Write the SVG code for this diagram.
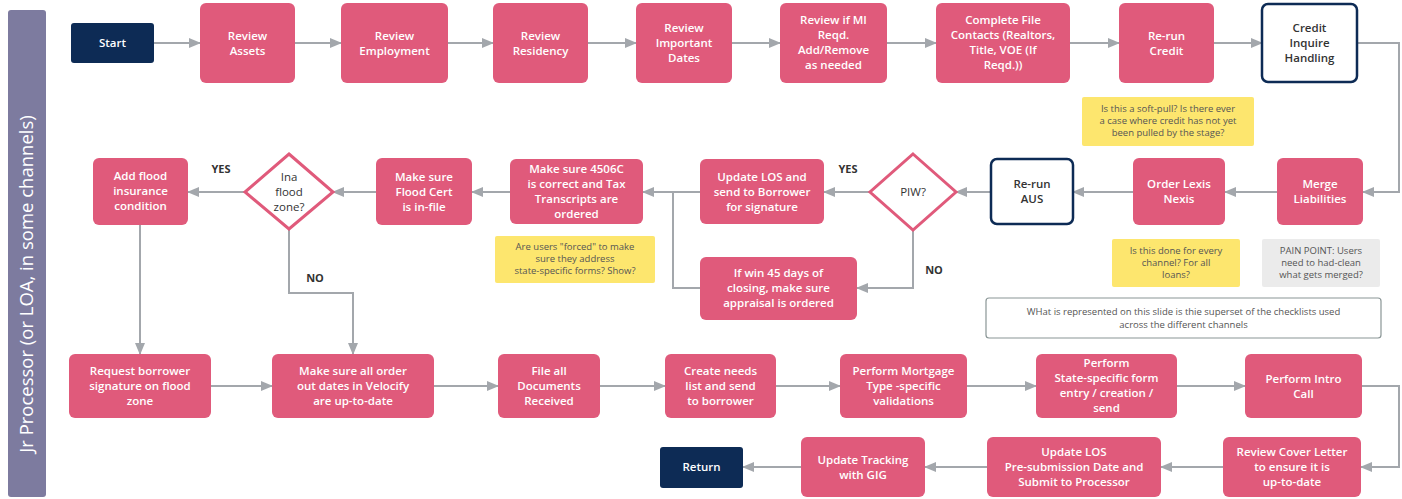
<svg xmlns="http://www.w3.org/2000/svg" width="1402" height="499" viewBox="0 0 1402 499">
<style>
.p{fill:#e05a7b}
.w{fill:#ffffff;stroke:#0d2b55;stroke-width:2.5}
.n{fill:#0d2b55}
.t{font-family:"Open Sans","Noto Sans",sans-serif;font-size:11.5px;font-weight:600;fill:#ffffff;text-anchor:middle}
.td{font-family:"Open Sans","Noto Sans",sans-serif;font-size:11.5px;font-weight:600;fill:#333333;text-anchor:middle}
.tn{font-family:"Open Sans","Noto Sans",sans-serif;font-size:9.5px;fill:#555555;text-anchor:middle}
.tl{font-family:"Open Sans","Noto Sans",sans-serif;font-size:11px;font-weight:700;fill:#333333;text-anchor:middle}
.c{fill:none;stroke:#a3a7ac;stroke-width:2}
.d{fill:#ffffff;stroke:#e05a7b;stroke-width:3}
.y{fill:#fde66e}
</style>
<defs>
<marker id="ah" markerWidth="12" markerHeight="10" refX="11" refY="5" orient="auto" markerUnits="userSpaceOnUse">
<path d="M0,0 L12,5 L0,10 Z" fill="#a3a7ac"/>
</marker>
</defs>
<rect width="1402" height="499" fill="#ffffff"/>
<g id="lane">
<rect x="8" y="10" width="38" height="487" rx="3" fill="#7d7b9f"/>
<text transform="translate(33,284) rotate(-90)" style="font-family:'Open Sans','Noto Sans',sans-serif;font-size:18.5px;fill:#ffffff;text-anchor:middle">Jr Processor (or LOA, in some channels)</text>
</g>
<g id="connectors">
<path class="c" d="M154,43 H200" marker-end="url(#ah)"/>
<path class="c" d="M295,43 H341" marker-end="url(#ah)"/>
<path class="c" d="M448,43 H493" marker-end="url(#ah)"/>
<path class="c" d="M588,43 H636" marker-end="url(#ah)"/>
<path class="c" d="M732,43 H780" marker-end="url(#ah)"/>
<path class="c" d="M887,43 H936" marker-end="url(#ah)"/>
<path class="c" d="M1070,43 H1119" marker-end="url(#ah)"/>
<path class="c" d="M1214,43 H1262" marker-end="url(#ah)"/>
<path class="c" d="M1357,43 H1399 V192 H1363" marker-end="url(#ah)"/>
<path class="c" d="M1277,192 H1225" marker-end="url(#ah)"/>
<path class="c" d="M1133,192 H1073" marker-end="url(#ah)"/>
<path class="c" d="M990,192 H956" marker-end="url(#ah)"/>
<path class="c" d="M870,192 H824" marker-end="url(#ah)"/>
<path class="c" d="M913,231 V288 H857" marker-end="url(#ah)"/>
<path class="c" d="M700,192 H643" marker-end="url(#ah)"/>
<path class="c" d="M700,288 H673 V192"/>
<path class="c" d="M510,192 H472" marker-end="url(#ah)"/>
<path class="c" d="M376,192 H333" marker-end="url(#ah)"/>
<path class="c" d="M245,192 H188" marker-end="url(#ah)"/>
<path class="c" d="M140,225 V354" marker-end="url(#ah)"/>
<path class="c" d="M289,229 V293 H353 V354" marker-end="url(#ah)"/>
<path class="c" d="M211,386 H272" marker-end="url(#ah)"/>
<path class="c" d="M434,386 H498" marker-end="url(#ah)"/>
<path class="c" d="M600,386 H665" marker-end="url(#ah)"/>
<path class="c" d="M776,386 H840" marker-end="url(#ah)"/>
<path class="c" d="M967,386 H1036" marker-end="url(#ah)"/>
<path class="c" d="M1177,386 H1245" marker-end="url(#ah)"/>
<path class="c" d="M1362,386 H1399 V467 H1361" marker-end="url(#ah)"/>
<path class="c" d="M1223,467 H1161" marker-end="url(#ah)"/>
<path class="c" d="M987,467 H925" marker-end="url(#ah)"/>
<path class="c" d="M801,467 H743" marker-end="url(#ah)"/>
<text class="tl" x="221" y="173">YES</text>
<text class="tl" x="315" y="282">NO</text>
<text class="tl" x="848" y="173">YES</text>
<text class="tl" x="934" y="274">NO</text>
</g>
<g id="start"><rect class="n" x="71" y="23" width="83" height="40" rx="3"/><text class="t" x="112.5" y="47">Start</text></g>
<g id="review-assets"><rect class="p" x="200" y="3" width="95" height="80" rx="6"/><text class="t" x="247.5" y="40">Review</text><text class="t" x="247.5" y="55">Assets</text></g>
<g id="review-employment"><rect class="p" x="341" y="3" width="107" height="80" rx="6"/><text class="t" x="394.5" y="40">Review</text><text class="t" x="394.5" y="55">Employment</text></g>
<g id="review-residency"><rect class="p" x="493" y="3" width="95" height="80" rx="6"/><text class="t" x="540.5" y="40">Review</text><text class="t" x="540.5" y="55">Residency</text></g>
<g id="review-dates"><rect class="p" x="636" y="3" width="96" height="80" rx="6"/><text class="t" x="684" y="32">Review</text><text class="t" x="684" y="47">Important</text><text class="t" x="684" y="62">Dates</text></g>
<g id="review-mi"><rect class="p" x="780" y="3" width="107" height="80" rx="6"/><text class="t" x="833.5" y="24">Review if MI</text><text class="t" x="833.5" y="39">Reqd.</text><text class="t" x="833.5" y="54">Add/Remove</text><text class="t" x="833.5" y="69">as needed</text></g>
<g id="complete-contacts"><rect class="p" x="936" y="3" width="134" height="80" rx="6"/><text class="t" x="1003" y="24">Complete File</text><text class="t" x="1003" y="39">Contacts (Realtors,</text><text class="t" x="1003" y="54">Title, VOE (If</text><text class="t" x="1003" y="69">Reqd.))</text></g>
<g id="rerun-credit"><rect class="p" x="1119" y="3" width="95" height="80" rx="6"/><text class="t" x="1166.5" y="40">Re-run</text><text class="t" x="1166.5" y="55">Credit</text></g>
<g id="credit-inquire"><rect class="w" x="1262" y="4" width="95" height="78" rx="6"/><text class="td" x="1309.5" y="32">Credit</text><text class="td" x="1309.5" y="47">Inquire</text><text class="td" x="1309.5" y="62">Handling</text></g>
<g id="note-softpull"><rect class="y" x="1082" y="97" width="172" height="49" rx="2"/><text class="tn" x="1168" y="112">Is this a soft-pull? Is there ever</text><text class="tn" x="1168" y="124">a case where credit has not yet</text><text class="tn" x="1168" y="136">been pulled by the stage?</text></g>
<g id="merge-liabilities"><rect class="p" x="1277" y="158" width="86" height="67" rx="6"/><text class="t" x="1320" y="188">Merge</text><text class="t" x="1320" y="203">Liabilities</text></g>
<g id="order-lexis"><rect class="p" x="1133" y="158" width="92" height="67" rx="6"/><text class="t" x="1179" y="188">Order Lexis</text><text class="t" x="1179" y="203">Nexis</text></g>
<g id="rerun-aus"><rect class="w" x="991" y="159" width="82" height="65" rx="6"/><text class="td" x="1032" y="188">Re-run</text><text class="td" x="1032" y="203">AUS</text></g>
<g id="piw"><polygon class="d" points="913,154 956,192 913,230 870,192"/><text class="td" x="913" y="196" style="font-weight:400">PIW?</text></g>
<g id="update-los-sign"><rect class="p" x="700" y="159" width="124" height="65" rx="6"/><text class="t" x="762" y="181">Update LOS and</text><text class="t" x="762" y="196">send to Borrower</text><text class="t" x="762" y="211">for signature</text></g>
<g id="appraisal"><rect class="p" x="700" y="257" width="157" height="63" rx="6"/><text class="t" x="778.5" y="277">If win 45 days of</text><text class="t" x="778.5" y="292">closing, make sure</text><text class="t" x="778.5" y="307">appraisal is ordered</text></g>
<g id="make-4506c"><rect class="p" x="510" y="159" width="133" height="65" rx="6"/><text class="t" x="576.5" y="173">Make sure 4506C</text><text class="t" x="576.5" y="188">is correct and Tax</text><text class="t" x="576.5" y="203">Transcripts are</text><text class="t" x="576.5" y="218">ordered</text></g>
<g id="note-forced"><rect class="y" x="495" y="236" width="160" height="47" rx="2"/><text class="tn" x="575" y="250">Are users "forced" to make</text><text class="tn" x="575" y="262">sure they address</text><text class="tn" x="575" y="274">state-specific forms? Show?</text></g>
<g id="flood-cert"><rect class="p" x="376" y="158" width="96" height="67" rx="6"/><text class="t" x="424" y="181">Make sure</text><text class="t" x="424" y="196">Flood Cert</text><text class="t" x="424" y="211">is in-file</text></g>
<g id="flood-zone"><polygon class="d" points="289,154 333,192 289,229 245,192"/><text class="td" x="289" y="181" style="font-weight:400">Ina</text><text class="td" x="289" y="196" style="font-weight:400">flood</text><text class="td" x="289" y="211" style="font-weight:400">zone?</text></g>
<g id="add-flood"><rect class="p" x="93" y="158" width="95" height="67" rx="6"/><text class="t" x="140.5" y="180">Add flood</text><text class="t" x="140.5" y="195">insurance</text><text class="t" x="140.5" y="210">condition</text></g>
<g id="request-signature"><rect class="p" x="69" y="354" width="142" height="64" rx="6"/><text class="t" x="140" y="375">Request borrower</text><text class="t" x="140" y="390">signature on flood</text><text class="t" x="140" y="405">zone</text></g>
<g id="velocify"><rect class="p" x="272" y="354" width="162" height="64" rx="6"/><text class="t" x="353" y="375">Make sure all order</text><text class="t" x="353" y="390">out dates in Velocify</text><text class="t" x="353" y="405">are up-to-date</text></g>
<g id="file-documents"><rect class="p" x="498" y="354" width="102" height="64" rx="6"/><text class="t" x="549" y="375">File all</text><text class="t" x="549" y="390">Documents</text><text class="t" x="549" y="405">Received</text></g>
<g id="needs-list"><rect class="p" x="665" y="354" width="111" height="64" rx="6"/><text class="t" x="720.5" y="375">Create needs</text><text class="t" x="720.5" y="390">list and send</text><text class="t" x="720.5" y="405">to borrower</text></g>
<g id="mortgage-validations"><rect class="p" x="840" y="354" width="127" height="64" rx="6"/><text class="t" x="903.5" y="375">Perform Mortgage</text><text class="t" x="903.5" y="390">Type -specific</text><text class="t" x="903.5" y="405">validations</text></g>
<g id="state-forms"><rect class="p" x="1036" y="354" width="141" height="64" rx="6"/><text class="t" x="1106.5" y="367">Perform</text><text class="t" x="1106.5" y="382">State-specific form</text><text class="t" x="1106.5" y="397">entry / creation /</text><text class="t" x="1106.5" y="412">send</text></g>
<g id="intro-call"><rect class="p" x="1245" y="354" width="117" height="64" rx="6"/><text class="t" x="1303.5" y="383">Perform Intro</text><text class="t" x="1303.5" y="398">Call</text></g>
<g id="note-every-channel"><rect class="y" x="1112" y="239" width="128" height="48" rx="2"/><text class="tn" x="1176" y="254">Is this done for every</text><text class="tn" x="1176" y="266">channel? For all</text><text class="tn" x="1176" y="278">loans?</text></g>
<g id="note-pain"><rect x="1262" y="239" width="118" height="48" rx="2" fill="#ebebeb"/><text class="tn" x="1321" y="254">PAIN POINT: Users</text><text class="tn" x="1321" y="266">need to had-clean</text><text class="tn" x="1321" y="278">what gets merged?</text></g>
<g id="note-superset"><rect x="986" y="298" width="395" height="40" rx="3" fill="#ffffff" stroke="#8a9696" stroke-width="1.2"/><text class="tn" x="1183.5" y="315">WHat is represented on this slide is thie superset of the checklists used</text><text class="tn" x="1183.5" y="328">across the different channels</text></g>
<g id="cover-letter"><rect class="p" x="1223" y="437" width="138" height="60" rx="6"/><text class="t" x="1292" y="456">Review Cover Letter</text><text class="t" x="1292" y="471">to ensure it is</text><text class="t" x="1292" y="486">up-to-date</text></g>
<g id="update-presub"><rect class="p" x="987" y="437" width="174" height="60" rx="6"/><text class="t" x="1074" y="456">Update LOS</text><text class="t" x="1074" y="471">Pre-submission Date and</text><text class="t" x="1074" y="486">Submit to Processor</text></g>
<g id="update-tracking"><rect class="p" x="801" y="437" width="124" height="60" rx="6"/><text class="t" x="863" y="464">Update Tracking</text><text class="t" x="863" y="479">with GIG</text></g>
<g id="return"><rect class="n" x="660" y="447" width="83" height="41" rx="3"/><text class="t" x="701.5" y="471">Return</text></g>
</svg>
